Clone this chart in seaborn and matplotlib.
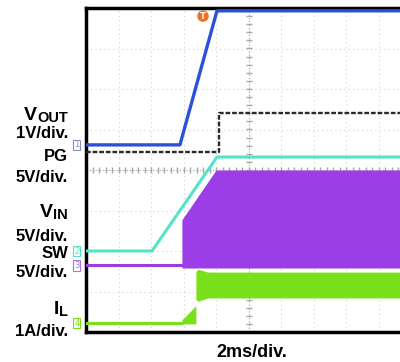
import matplotlib
matplotlib.use("Agg")
import matplotlib.pyplot as plt
import seaborn as sns
import numpy as np
import pandas as pd

sns.set_style("white")
plt.rcParams['font.family'] = ['Liberation Sans', 'DejaVu Sans']

# time in divisions (2 ms/div), level in divisions from screen bottom
vout_t = [0.0, 2.89, 4.03, 10.5]
vout_v = [4.62, 4.62, 7.93, 7.93]
pg_t = [0.0, 4.08, 4.08, 10.5]
pg_v = [4.44, 4.44, 5.41, 5.41]
vin_t = [0.0, 2.03, 4.03, 10.5]
vin_v = [2.00, 2.00, 4.32, 4.32]
sw_t = [0.0, 2.95]
sw_v = [1.65, 1.65]
sw_band_t = [2.95, 4.00, 10.5]
sw_band_top = [2.77, 4.00, 4.00]
sw_band_bot = [1.58, 1.58, 1.58]
il_t = [0.0, 2.95]
il_v = [0.22, 0.22]
il_band_t = [2.95, 3.38, 3.38, 3.45, 3.75, 10.5]
il_band_top = [0.30, 0.65, 1.50, 1.55, 1.48, 1.48]
il_band_bot = [0.20, 0.20, 0.80, 0.76, 0.84, 0.84]

# (main text, subscript, baseline px)
labels = [("V", "OUT", 120), ("1V/div.", "", 138), ("PG", "", 161), ("5V/div.", "", 182),
          ("V", "IN", 217), ("5V/div.", "", 241), ("SW", "", 258), ("5V/div.", "", 277),
          ("I", "L", 314), ("1A/div.", "", 336)]
xlabel = "2ms/div."

W, H = 400, 362
fig = plt.figure(figsize=(W / 100, H / 100), dpi=100)
ax = fig.add_axes([86 / W, 1 - 332 / H, 325 / W, 324 / H])
ax.set_xlim(0, 10)
ax.set_ylim(0, 8)

# graticule
for i in range(1, 10):
    ax.axvline(i, color='#d0d0d0', lw=0.8, ls=(0, (1, 3)), zorder=0)
for j in range(1, 8):
    ax.axhline(j, color='#d0d0d0', lw=0.8, ls=(0, (1, 3)), zorder=0)
ax.axvline(5, color='#a8a8a8', lw=0.8, ls=(0, (1, 2)), zorder=0)
ax.axhline(4, color='#a8a8a8', lw=0.8, ls=(0, (1, 2)), zorder=0)
mt = np.arange(0.2, 8, 0.2)
ax.plot([5] * len(mt), mt, ls='none', marker='_', ms=4, color='#a8a8a8', zorder=0)
mx = np.arange(0.2, 10.5, 0.2)
ax.plot(mx, [4] * len(mx), ls='none', marker='|', ms=4, color='#a8a8a8', zorder=0)

# traces
ax.fill_between(sw_band_t, sw_band_bot, sw_band_top, color='#9b3ee8', lw=0, zorder=2)
ax.fill_between(il_band_t, il_band_bot, il_band_top, color='#7be01c', lw=0, zorder=2)
sns.lineplot(x=sw_t, y=sw_v, ax=ax, color='#9b3ee0', lw=2.2, sort=False, estimator=None, zorder=3)
sns.lineplot(x=il_t, y=il_v, ax=ax, color='#7be01c', lw=2.2, sort=False, estimator=None, zorder=3)
sns.lineplot(x=vin_t, y=vin_v, ax=ax, color='#55e3c6', lw=2.2, sort=False, estimator=None, zorder=4)
sns.lineplot(x=pg_t, y=pg_v, ax=ax, color='#2a2a2a', lw=1.7, sort=False, estimator=None, zorder=4,
             dashes=False).lines[-1].set_dashes((2, 0.8))
sns.lineplot(x=vout_t, y=vout_v, ax=ax, color='#2d50dc', lw=2.4, sort=False, estimator=None, zorder=5)

for s in ['left', 'top', 'bottom']:
    ax.spines[s].set_linewidth(2.5)
    ax.spines[s].set_color('black')
ax.spines['right'].set_visible(False)
ax.set_xticks([])
ax.set_yticks([])
ax.set_xlabel('')
ax.set_ylabel('')

# channel markers
markers = [("1", vout_v[0], '#8090c0'), ("2", vin_v[0], '#55e3c6'),
           ("3", sw_v[0], '#b070e8'), ("4", il_v[0], '#7be01c')]
for txt, lev, col in markers:
    ax.text(-0.28, lev, txt, color=col, fontsize=6, ha='center', va='center',
            bbox=dict(boxstyle='square,pad=0.1', fc='white', ec=col, lw=0.8), clip_on=False,
            family='DejaVu Sans')
ax.text(3.6, 7.8, "T", color='white', fontsize=6, fontweight='bold', ha='center', va='center',
        bbox=dict(boxstyle='circle,pad=0.15', fc='#f07020', ec='none'), family='DejaVu Sans')

renderer = fig.canvas.get_renderer()
xr = 68
for main, sub, yb in labels:
    if sub:
        st = fig.text(xr / W, 1 - (yb + 2) / H, sub, ha='right', va='baseline', fontsize=10.5,
                      fontweight='bold', color='black')
        sw_px = st.get_window_extent(renderer).width
        fig.text((xr - sw_px) / W, 1 - yb / H, main, ha='right', va='baseline', fontsize=14,
                 fontweight='bold', color='black')
    else:
        fig.text(xr / W, 1 - yb / H, main, ha='right', va='baseline', fontsize=12,
                 fontweight='bold', color='black')
fig.text(252 / W, 1 - 357 / H, xlabel, ha='center', va='baseline', fontsize=13,
         fontweight='bold', color='black')

fig.savefig("out.png", dpi=100)
